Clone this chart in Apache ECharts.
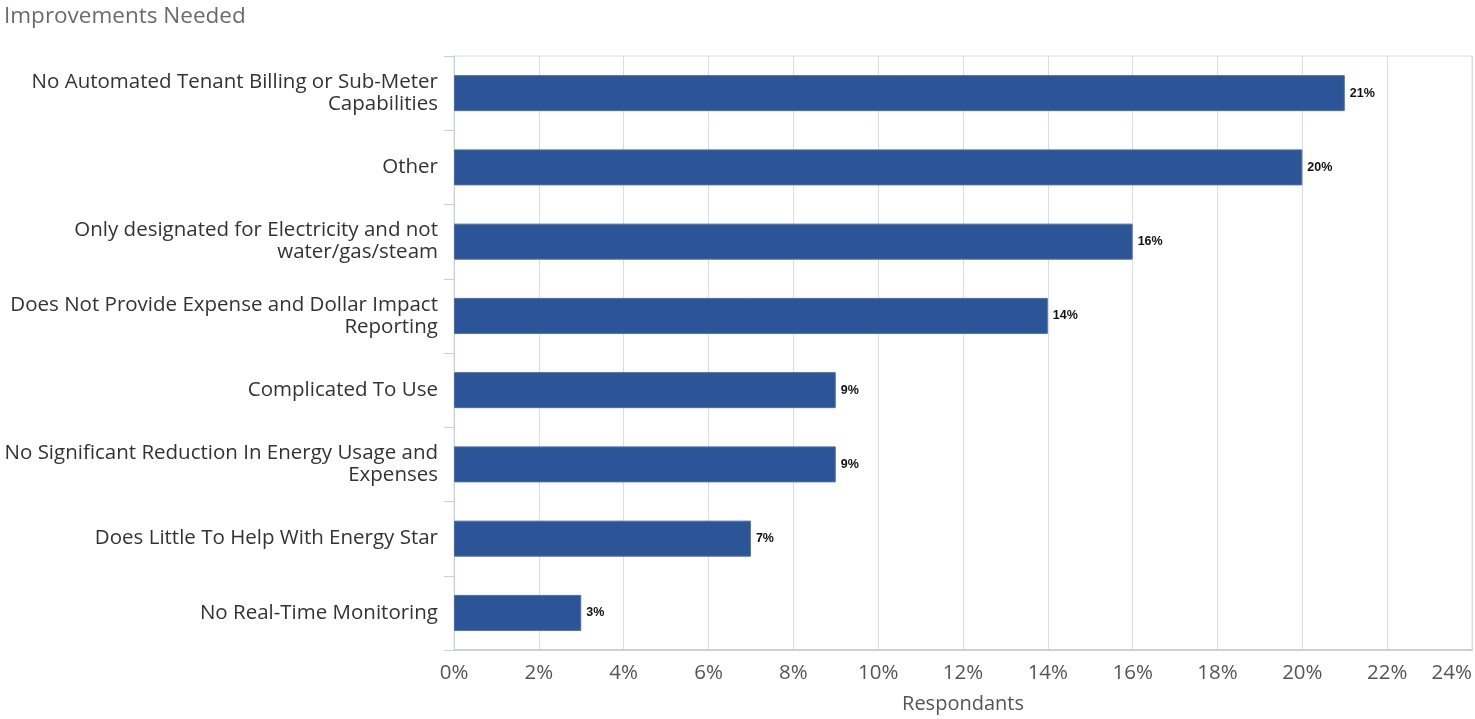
<!DOCTYPE html>
<html>
<head>
<meta charset="utf-8">
<script src="https://cdn.jsdelivr.net/npm/echarts@6/dist/echarts.min.js"></script>
<style>
  html, body { margin: 0; padding: 0; background: #fff; }
  #chart { width: 1475px; height: 719px; }
</style>
</head>
<body>
<div id="chart"></div>
<script>
// categories from top to bottom
const categories = [
  'No Automated Tenant Billing or Sub-Meter\nCapabilities',
  'Other',
  'Only designated for Electricity and not\nwater/gas/steam',
  'Does Not Provide Expense and Dollar Impact\nReporting',
  'Complicated To Use',
  'No Significant Reduction In Energy Usage and\nExpenses',
  'Does Little To Help With Energy Star',
  'No Real-Time Monitoring'
];
const respondants = [21, 20, 16, 14, 9, 9, 7, 3];
const xTicks = [0, 2, 4, 6, 8, 10, 12, 14, 16, 18, 20, 22, 24];

const chart = echarts.init(document.getElementById('chart'));

const font = '"Open Sans", Lato, sans-serif';

const option = {
  animation: false,
  textStyle: { fontFamily: font },
  title: {
    text: 'Improvements Needed',
    left: 4,
    top: 5,
    padding: 0,
    textStyle: { fontSize: 22.5, fontWeight: 'normal', color: '#6b6b6b', fontFamily: font }
  },
  grid: {
    left: 454, right: 1, top: 56, bottom: 68,
    show: true, borderColor: '#dcdcdc', borderWidth: 1
  },
  xAxis: {
    type: 'value',
    min: xTicks[0],
    max: xTicks[xTicks.length - 1],
    interval: 2,
    name: 'Respondants',
    nameLocation: 'middle',
    nameGap: 44,
    nameTextStyle: { fontSize: 20, color: '#555' },
    axisLine: { show: true, lineStyle: { color: '#cfcfcf', width: 2 } },
    axisTick: { show: false },
    splitLine: { show: true, lineStyle: { color: '#dcdcdc' } },
    axisLabel: {
      fontSize: 20.5, color: '#555', margin: 13,
      formatter: v => v + '%',
      alignMaxLabel: 'right'
    }
  },
  yAxis: {
    type: 'category',
    inverse: true,
    data: categories,
    axisLine: { show: true, lineStyle: { color: '#c3d1e6' } },
    axisTick: { show: true, length: 10, lineStyle: { color: '#c3d1e6' } },
    axisLabel: { fontSize: 20.5, color: '#333', margin: 16, lineHeight: 22, align: 'right' }
  },
  series: [{
    type: 'bar',
    data: respondants,
    barWidth: 36,
    itemStyle: { color: '#2c5597', borderColor: '#4a6ea8', borderWidth: 1 },
    label: {
      show: true,
      position: 'right',
      distance: 5,
      formatter: p => p.value + '%',
      fontSize: 12.5,
      fontWeight: 'bold',
      color: '#111',
      fontFamily: 'Arial, "Liberation Sans", sans-serif'
    }
  }]
};

chart.setOption(option);
</script>
</body>
</html>
